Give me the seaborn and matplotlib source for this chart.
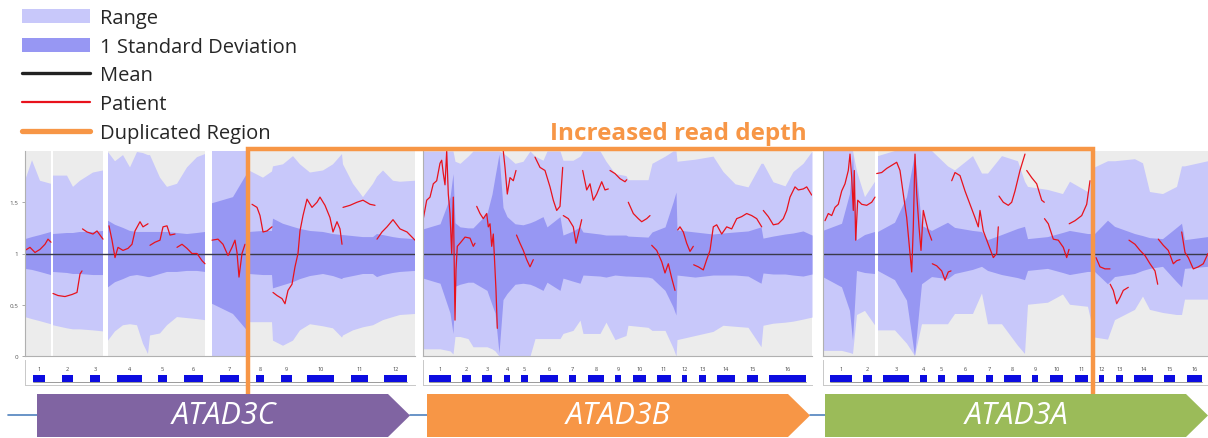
import numpy as np
import pandas as pd
import seaborn as sns
import matplotlib.pyplot as plt
from matplotlib.patches import Patch, Polygon
from matplotlib.lines import Line2D

nan = np.nan

# ================= data =================
# positions are in panel units (0 .. panel length), ratio = read depth / mean

# ---- ATAD3C panel ----
p1_pos = [0, 7, 15, 26, 27, 28, 42, 48, 55, 68, 78, 80, 83, 90, 98, 105, 112, 118, 123, 125,
          135, 142, 152, 162, 172, 180, 183, 187, 208, 222, 224, 238, 247, 248, 258,
          268, 275, 285, 298, 308, 317, 318, 328, 338, 348, 352, 358, 368, 375, 390]
p1_range_hi = [1.71, 1.91, 1.71, 1.68, nan, 1.76, 1.76, 1.65, 1.71, 1.79, 1.81, nan, 1.99, 1.90, 1.96,
               1.84, 1.99, 1.98, 1.96, 1.96, 1.74, 1.65, 1.68, 1.84, 1.94, 1.97, nan, 2.0, 2.0, 2.0,
               1.81, 1.74, 1.80, 1.85, 1.87, 1.95, 1.87, 1.79, 1.81, 1.87, 1.97, 1.87, 1.68, 1.55, 1.68,
               1.75, 1.81, 1.71, 1.70, 1.71]
p1_sd_hi = [1.14, 1.16, 1.18, 1.21, nan, 1.19, 1.20, 1.20, 1.21, 1.21, 1.22, nan, 1.32, 1.28, 1.25,
            1.22, 1.21, 1.21, 1.21, 1.21, 1.21, 1.21, 1.20, 1.19, 1.20, 1.21, nan, 1.49, 1.55, 1.78,
            1.21, 1.22, 1.22, 1.34, 1.29, 1.26, 1.24, 1.22, 1.21, 1.19, 1.18, 1.18, 1.17, 1.16, 1.16,
            1.19, 1.18, 1.16, 1.15, 1.14]
p1_sd_lo = [0.85, 0.84, 0.82, 0.79, nan, 0.82, 0.81, 0.80, 0.80, 0.79, 0.79, nan, 0.67, 0.72, 0.75,
            0.78, 0.79, 0.78, 0.77, 0.77, 0.80, 0.82, 0.82, 0.83, 0.83, 0.82, nan, 0.51, 0.41, 0.25,
            0.80, 0.79, 0.79, 0.66, 0.69, 0.72, 0.75, 0.78, 0.80, 0.78, 0.75, 0.76, 0.78, 0.80, 0.80,
            0.77, 0.79, 0.81, 0.82, 0.83]
p1_range_lo = [0.38, 0.36, 0.34, 0.31, nan, 0.30, 0.27, 0.26, 0.26, 0.25, 0.24, nan, 0.15, 0.24, 0.30,
               0.31, 0.30, 0.12, 0.02, 0.20, 0.22, 0.30, 0.38, 0.37, 0.36, 0.35, nan, 0.0, 0.0, 0.0,
               0.33, 0.33, 0.33, 0.15, 0.10, 0.15, 0.25, 0.31, 0.29, 0.27, 0.18, 0.20, 0.25, 0.28, 0.30,
               0.32, 0.35, 0.38, 0.40, 0.41]
p1_pat_pos = [0, 5, 10, 15, 20, 23, 26, nan,
              28, 33, 40, 47, 52, 55, 57, nan,
              57.5, 62, 68, 72, 75, 78, nan,
              84, 87, 90, 93, 98, 103, 107, 110, 115, 118, 123, nan,
              125, 130, 135, 138, 142, 145, 150, nan,
              152, 157, 162, 167, 172, 177, 180, nan,
              187, 193, 198, 203, 207, 210, 212, 214, 217, 220, nan,
              227, 232, 235, 238, 242, 247, nan,
              248, 252, 257, 260, 263, 267, 270, 273, 275, 278, 282, 287, 292, 295, 300, 305, 308, 312, 315, 317, nan,
              318, 325, 332, 338, 345, 350, nan,
              352, 357, 362, 368, 375, 382, 390]
p1_pat_val = [1.03, 1.06, 1.01, 1.04, 1.09, 1.14, 1.11, nan,
              0.61, 0.59, 0.58, 0.60, 0.62, 0.80, 0.83, nan,
              1.24, 1.21, 1.19, 1.22, 1.18, 1.14, nan,
              1.27, 1.13, 0.96, 1.06, 1.03, 1.05, 1.09, 1.22, 1.31, 1.26, 1.29, nan,
              1.08, 1.11, 1.13, 1.26, 1.27, 1.18, 1.19, nan,
              1.06, 1.09, 1.05, 1.00, 1.00, 0.93, 0.90, nan,
              1.13, 1.14, 1.09, 0.98, 1.06, 1.13, 1.01, 0.77, 1.00, 1.09, nan,
              1.48, 1.45, 1.37, 1.21, 1.22, 1.26, nan,
              0.62, 0.59, 0.56, 0.51, 0.64, 0.70, 0.87, 1.00, 1.22, 1.37, 1.53, 1.45, 1.50, 1.55, 1.47, 1.35, 1.21, 1.31, 1.24, 1.09, nan,
              1.45, 1.47, 1.50, 1.52, 1.48, 1.47, nan,
              1.14, 1.21, 1.26, 1.33, 1.24, 1.21, 1.13]
p1_exon_start = [8, 37, 65, 92, 133, 159, 195, 231, 256, 282, 326, 359]
p1_exon_end = [20, 48, 75, 117, 142, 178, 214, 239, 267, 309, 343, 382]

# ---- ATAD3B panel ----
p2_pos = [0, 17, 27, 30, 32, 37, 45, 50, 64, 69, 72, 76, 80, 84, 92, 100, 107, 112, 120, 124,
          137, 140, 150, 157, 160, 177, 183, 192, 203, 205, 225, 229, 242, 250, 253, 254, 272,
          290, 300, 312, 325, 338, 340, 350, 362, 370, 380, 389]
p2_range_hi = [2.0, 2.0, 2.0, 2.0, 1.90, 1.88, 1.95, 2.0, 2.0, 2.0, 2.0, 2.0, 1.98, 1.95, 1.88, 1.90,
               2.0, 1.95, 1.91, 2.0, 2.0, 1.91, 1.91, 1.95, 2.0, 2.0, 1.90, 1.78, 1.76, 1.72, 1.72,
               1.88, 1.95, 2.0, 2.0, 1.90, 1.92, 1.95, 1.80, 1.68, 1.65, 1.88, 1.88, 1.70, 1.66,
               1.80, 1.88, 2.0]
p2_sd_hi = [1.24, 1.29, 1.55, 1.78, 1.30, 1.26, 1.25, 1.25, 1.39, 1.58, 1.75, 1.97, 1.45, 1.36, 1.29,
            1.28, 1.30, 1.32, 1.36, 1.26, 1.36, 1.18, 1.22, 1.26, 1.21, 1.19, 1.18, 1.18, 1.18, 1.17,
            1.16, 1.21, 1.26, 1.50, 1.60, 1.23, 1.21, 1.19, 1.20, 1.21, 1.22, 1.26, 1.15, 1.17, 1.19,
            1.20, 1.22, 1.18]
p2_sd_lo = [0.76, 0.71, 0.42, 0.22, 0.68, 0.70, 0.72, 0.72, 0.64, 0.50, 0.42, 0.03, 0.55, 0.61, 0.70,
            0.71, 0.70, 0.68, 0.64, 0.72, 0.64, 0.76, 0.73, 0.71, 0.79, 0.78, 0.77, 0.79, 0.78, 0.78,
            0.77, 0.76, 0.64, 0.48, 0.40, 0.79, 0.77, 0.79, 0.79, 0.79, 0.78, 0.71, 0.81, 0.80, 0.80,
            0.79, 0.78, 0.80]
p2_range_lo = [0.07, 0.07, 0.05, 0.02, 0.19, 0.19, 0.17, 0.09, 0.09, 0.07, 0.05, 0.0, 0.0, 0.0, 0.0,
               0.0, 0.0, 0.17, 0.17, 0.17, 0.17, 0.22, 0.25, 0.35, 0.22, 0.22, 0.33, 0.16, 0.20, 0.30,
               0.28, 0.25, 0.25, 0.08, 0.0, 0.16, 0.20, 0.24, 0.30, 0.29, 0.28, 0.09, 0.30, 0.32, 0.33,
               0.34, 0.36, 0.38]
p2_pat_pos = [0.3, 3.7, 7, 10.3, 13.7, 17, 18.7, 20.3, 22, 23.7, 25.3, 27, 28.7, 30.3, 32, 33, 34.3, 37, 42, 47, 50.3, 52, nan,
              53.7, 57, 60.3, 63.7, 65.3, 67, 68.7, 70.3, 73, 74.3, nan,
              80.3, 82, 84.3, 87, 90.3, 93, nan,
              93.5, 97, 100.3, 103.7, 107, 110.3, nan,
              112, 117, 122, 127, 130.3, 133.7, 137, 139.7, nan,
              140.3, 145.3, 150.3, 153, 157, 158.7, nan,
              159.7, 163.7, 167, 170.3, 173.7, 178.7, 182, 185.3, nan,
              187, 192, 197, 202, 203.7, nan,
              205.3, 210.3, 215.3, 218.7, 223.7, 227, nan,
              228.7, 233.7, 238.7, 242, 245.3, 248.7, 252, nan,
              254.7, 257, 260.3, 263.7, 267, 270.3, nan,
              270.7, 275.3, 280.3, 283.7, 287, 290.3, 293.7, 298.7, 303.7, 308.7, 313.7, 318.7, 323.7, 328.7, 333.7, 338.7, nan,
              340.3, 345.3, 350.3, 355.3, 360.3, 363.7, 367, 372, 375.3, 380.3, 383.7, 388.7]
p2_pat_val = [1.34, 1.52, 1.55, 1.68, 1.71, 1.88, 1.91, 1.78, 1.67, 2.0, 1.58, 1.39, 1.0, 1.55, 0.35, 0.84, 1.07, 1.10, 1.16, 1.15, 1.07, 1.10, nan,
              1.46, 1.39, 1.34, 1.39, 1.26, 1.29, 1.07, 1.19, 0.64, 0.27, nan,
              2.0, 1.84, 1.58, 1.74, 1.71, 1.81, nan,
              1.18, 1.10, 1.03, 0.94, 0.87, 0.94, nan,
              1.94, 1.84, 1.81, 1.65, 1.52, 1.42, 1.46, 1.84, nan,
              1.37, 1.34, 1.26, 1.10, 1.26, 1.33, nan,
              1.81, 1.62, 1.68, 1.52, 1.58, 1.70, 1.62, 1.63, nan,
              1.81, 1.78, 1.73, 1.70, 1.72, nan,
              1.50, 1.39, 1.34, 1.31, 1.34, 1.37, nan,
              1.08, 1.03, 0.92, 0.81, 0.90, 0.76, 0.64, nan,
              1.23, 1.26, 1.21, 1.10, 1.02, 1.07, nan,
              0.89, 0.87, 0.84, 0.94, 1.03, 1.26, 1.28, 1.19, 1.26, 1.24, 1.34, 1.36, 1.39, 1.37, 1.34, 1.26, nan,
              1.42, 1.36, 1.28, 1.29, 1.34, 1.42, 1.55, 1.65, 1.62, 1.63, 1.65, 1.57]
p2_exon_start = [6, 39, 59, 81, 98, 117, 146, 165, 192, 210, 234, 259, 276, 294, 324, 346]
p2_exon_end = [28, 48, 69, 87, 105, 135, 153, 181, 198, 223, 248, 264, 283, 312, 335, 383]

# ---- ATAD3A panel ----
p3_pos = [0, 19, 27, 30, 34, 42, 52, 54, 55, 72, 84, 92, 99, 109, 125, 132, 150, 159, 165, 179,
          195, 202, 205, 225, 240, 247, 265, 272, 285, 292, 312, 320, 327, 340, 354, 359, 362, 385]
p3_range_hi = [2.0, 2.0, 2.0, 2.0, 1.80, 1.55, 1.70, nan, 1.95, 2.0, 2.0, 2.0, 2.0, 2.0, 1.85, 1.81,
               1.95, 1.78, 1.78, 1.95, 1.90, 1.70, 1.65, 1.62, 1.58, 1.70, 1.60, 1.84, 1.90, 1.90,
               1.92, 1.88, 1.60, 1.58, 1.65, 1.85, 1.85, 1.90]
p3_sd_hi = [1.22, 1.29, 1.58, 1.97, 1.13, 1.18, 1.21, nan, 1.21, 1.30, 1.55, 1.97, 1.27, 1.22, 1.30,
            1.25, 1.22, 1.21, 1.13, 1.18, 1.24, 1.26, 1.14, 1.16, 1.20, 1.22, 1.19, 1.19, 1.32, 1.26,
            1.19, 1.17, 1.15, 1.14, 1.25, 1.29, 1.13, 1.16]
p3_sd_lo = [0.77, 0.67, 0.44, 0.15, 0.83, 0.81, 0.80, nan, 0.83, 0.74, 0.54, 0.0, 0.70, 0.77, 0.75,
            0.80, 0.84, 0.87, 0.83, 0.79, 0.76, 0.74, 0.83, 0.85, 0.81, 0.79, 0.82, 0.82, 0.70, 0.77,
            0.80, 0.83, 0.85, 0.87, 0.72, 0.67, 0.85, 0.87]
p3_range_lo = [0.05, 0.05, 0.03, 0.02, 0.40, 0.44, 0.30, nan, 0.25, 0.25, 0.12, 0.0, 0.31, 0.31, 0.31,
               0.41, 0.41, 0.61, 0.31, 0.31, 0.10, 0.02, 0.50, 0.52, 0.60, 0.50, 0.48, 0.18, 0.16,
               0.35, 0.45, 0.58, 0.45, 0.42, 0.40, 0.40, 0.55, 0.55]
p3_pat_pos = [2, 5.3, 8.7, 12, 15.3, 18.7, 22, 25.3, 27, 28.7, 30.3, 31.3, 32.7, 34.7, 38.7, 43.7, 48.7, 52, nan,
              53.7, 58.7, 63.7, 68.7, 73.7, 77, 80.3, 83.7, 87, 88.7, 90.3, 92, 93.7, 96, 98, 100.3, 102.7, 105.3, 108.7, nan,
              109.3, 113.7, 118.7, 122, 125.3, 128, nan,
              128.7, 132, 137, 142, 147, 152, 155.3, 157, 160.3, 165.3, 170.3, 173.7, 175.3, nan,
              176, 180.3, 185.3, 188.7, 192, 197, 202, nan,
              203.7, 208.7, 213.7, 218.7, 221.3, nan,
              221.5, 225.3, 230.3, 235.3, 240.3, 243.7, 246, nan,
              246.2, 252, 258.7, 263.7, 267, nan,
              273, 277, 282, 287, nan,
              287.2, 290.3, 293.7, 297, 300.3, 305.3, nan,
              306, 312, 317, 322, 327, 332, 334.7, nan,
              335.3, 340.3, 345.3, 350.3, 353.7, 357, nan,
              358.7, 362, 365.3, 370.3, 375.3, 380.3, 385]
p3_pat_val = [1.32, 1.39, 1.37, 1.45, 1.48, 1.61, 1.68, 1.81, 1.97, 1.74, 1.42, 1.81, 1.13, 1.52, 1.48, 1.47, 1.50, 1.55, nan,
              1.78, 1.79, 1.83, 1.86, 1.89, 1.81, 1.58, 1.35, 1.0, 0.82, 1.26, 1.97, 1.58, 1.26, 1.03, 1.42, 1.32, 1.22, 1.13, nan,
              0.90, 0.88, 0.83, 0.74, 0.82, 0.83, nan,
              1.71, 1.79, 1.76, 1.61, 1.48, 1.35, 1.26, 1.42, 1.22, 1.09, 0.96, 1.0, 1.26, nan,
              1.56, 1.50, 1.47, 1.50, 1.61, 1.81, 1.97, nan,
              1.81, 1.74, 1.68, 1.52, 1.50, nan,
              1.34, 1.29, 1.14, 1.13, 1.06, 0.96, 1.04, nan,
              1.29, 1.32, 1.37, 1.48, 1.71, nan,
              0.96, 0.87, 0.85, 0.85, nan,
              0.70, 0.64, 0.51, 0.57, 0.64, 0.67, nan,
              1.13, 1.09, 1.03, 0.98, 0.90, 0.83, 0.70, nan,
              1.14, 1.08, 1.03, 0.90, 0.93, 0.94, nan,
              1.21, 1.01, 0.96, 0.85, 0.87, 0.90, 1.0]
p3_exon_start = [7, 40, 60, 97, 115, 134, 163, 181, 209, 227, 252, 276, 293, 311, 341, 364]
p3_exon_end = [29, 49, 86, 104, 122, 151, 170, 198, 215, 240, 265, 281, 300, 330, 352, 379]

panel_len = [390, 389, 385]
mean_level = 1.0
genes = ["ATAD3C", "ATAD3B", "ATAD3A"]
# duplicated region: (panel index, position)
dup_start = (0, 223)
dup_end = (2, 270)

# ================= style =================
GREY = "#ececec"
RANGE_C = "#c8c8fa"
SD_C = "#9797f3"
MEAN_C = "#3a3a4a"
RED = "#e8121c"
ORANGE = "#f79646"
EXON_C = "#0c0ce0"
GENE_COLORS = ["#8064a2", "#f79646", "#9bbb59"]
LINK_C = "#4f81bd"

sns.set_style("white")
plt.rcParams['font.family'] = ['Open Sans', 'DejaVu Sans']

W, H = 1208, 439
fig = plt.figure(figsize=(W / 100, H / 100), dpi=100)


def box(x0, x1, y0, y1):
    return [x0 / W, 1 - y1 / H, (x1 - x0) / W, (y1 - y0) / H]


def patient_frame(pos, val):
    pos = np.asarray(pos, float)
    val = np.asarray(val, float)
    seg = np.cumsum(np.isnan(val))
    return pd.DataFrame({"pos": pos, "ratio": val, "seg": seg}).dropna()


panels = [
    (p1_pos, p1_range_hi, p1_sd_hi, p1_sd_lo, p1_range_lo, p1_pat_pos, p1_pat_val, p1_exon_start, p1_exon_end),
    (p2_pos, p2_range_hi, p2_sd_hi, p2_sd_lo, p2_range_lo, p2_pat_pos, p2_pat_val, p2_exon_start, p2_exon_end),
    (p3_pos, p3_range_hi, p3_sd_hi, p3_sd_lo, p3_range_lo, p3_pat_pos, p3_pat_val, p3_exon_start, p3_exon_end),
]
panel_px = [(25, 415), (423, 812), (823, 1208)]

axes = []
for i, (pos, rhi, shi, slo, rlo, ppos, pval, es, ee) in enumerate(panels):
    x0, x1 = panel_px[i]
    ax = fig.add_axes(box(x0, x1, 152, 357))
    pos = np.asarray(pos, float)
    rhi = np.asarray(rhi, float)
    ax.fill_between(pos, 0, 2, where=np.isfinite(rhi), color=GREY, lw=0)
    ax.fill_between(pos, rlo, rhi, color=RANGE_C, lw=0)
    ax.fill_between(pos, slo, shi, color=SD_C, lw=0)
    ax.axhline(mean_level, color=MEAN_C, lw=1.0)
    sns.lineplot(data=patient_frame(ppos, pval), x="pos", y="ratio", units="seg",
                 estimator=None, sort=False, color=RED, lw=0.9, ax=ax, legend=False)
    ax.set_xlim(0, panel_len[i])
    ax.set_ylim(0, 2)
    ax.set_xlabel("")
    ax.set_ylabel("")
    ax.set_xticks([])
    if i == 0:
        ax.set_yticks([0, 0.5, 1, 1.5])
        ax.set_yticklabels(["0", "0.5", "1", "1.5"])
        ax.tick_params(axis="y", labelsize=4.5, labelcolor="#555555", length=2,
                       width=0.5, color="#888888", pad=3, left=True)
    else:
        ax.set_yticks([])
    for s in ["top", "right"]:
        ax.spines[s].set_visible(False)
    for s in ["left", "bottom"]:
        ax.spines[s].set_color("#b0b0b0")
        ax.spines[s].set_linewidth(0.8)
    axes.append(ax)

    # exon track
    axt = fig.add_axes(box(x0, x1, 361, 386))
    axt.plot([es[0], ee[-1]], [0.12, 0.12], color="#8a8a8a", lw=0.6)
    axt.broken_barh([(s, e - s) for s, e in zip(es, ee)], (0.14, 0.26), facecolor=EXON_C, lw=0)
    for k, (s, e) in enumerate(zip(es, ee)):
        axt.text((s + e) / 2, 0.64, str(k + 1), fontsize=4, color="#444444",
                 ha="center", va="center")
    axt.set_xlim(0, panel_len[i])
    axt.set_ylim(0, 1)
    axt.set_xticks([])
    axt.set_yticks([])
    for s in ["top", "right"]:
        axt.spines[s].set_visible(False)
    for s in ["left", "bottom"]:
        axt.spines[s].set_color("#c8c8c8")
        axt.spines[s].set_linewidth(0.7)

# ---- overlay: duplicated region box, gene arrows ----
ov = fig.add_axes([0, 0, 1, 1], zorder=10)
ov.set_xlim(0, W)
ov.set_ylim(H, 0)
ov.axis("off")
ov.patch.set_alpha(0)

xl = axes[dup_start[0]].transData.transform((dup_start[1], 0))[0]
xr = axes[dup_end[0]].transData.transform((dup_end[1], 0))[0]
ov.plot([xl, xl, xr, xr], [397, 150, 150, 397], color=ORANGE, lw=3.2,
        solid_joinstyle="miter", solid_capstyle="butt")
ov.text((xl + xr) / 2 + 8, 134, "Increased read depth", color=ORANGE, fontsize=17.5,
        fontweight="bold", ha="center", va="center")

gene_px = [(37, 410), (427, 810), (825, 1208)]
ov.plot([8, 37], [416.5, 416.5], color=LINK_C, lw=1.2)
ov.plot([410, 427], [416.5, 416.5], color=LINK_C, lw=1.2)
ov.plot([810, 825], [416.5, 416.5], color=LINK_C, lw=1.2)
for g, c, (a, b) in zip(genes, GENE_COLORS, gene_px):
    ov.add_patch(Polygon([(a, 395), (b - 22, 395), (b, 416.5), (b - 22, 438), (a, 438)],
                         closed=True, fc=c, ec="none", zorder=3))
    ov.text((a + b) / 2, 416, g, color="white", fontsize=22, fontstyle="italic",
            ha="center", va="center", zorder=4)

# ---- legend ----
handles = [Patch(fc=RANGE_C, ec="none"), Patch(fc=SD_C, ec="none"),
           Line2D([], [], color="#222222", lw=2.4), Line2D([], [], color=RED, lw=1.6),
           Line2D([], [], color=ORANGE, lw=3.8)]
labels = ["Range", "1 Standard Deviation", "Mean", "Patient", "Duplicated Region"]
fig.legend(handles, labels, loc="upper left", bbox_to_anchor=(22 / W, 1 - 9 / H),
           frameon=False, fontsize=14.5, handlelength=3.38, handleheight=0.7,
           labelspacing=0.43, handletextpad=0.5, borderpad=0, borderaxespad=0)

fig.savefig("out.png", dpi=100)
